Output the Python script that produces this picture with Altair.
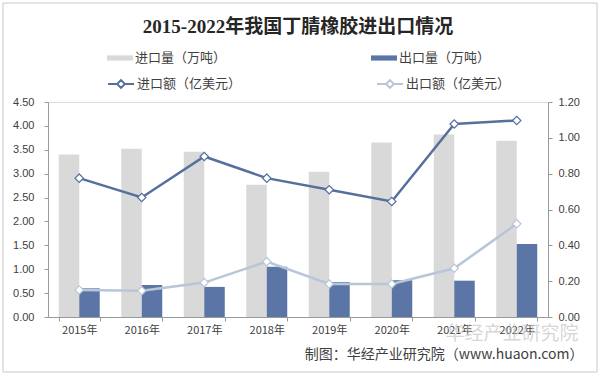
import altair as alt
import pandas as pd

years = ["2015年", "2016年", "2017年", "2018年", "2019年", "2020年", "2021年", "2022年"]
import_vol = [3.40, 3.52, 3.46, 2.77, 3.04, 3.65, 3.82, 3.69]
export_vol = [0.60, 0.67, 0.63, 1.05, 0.73, 0.77, 0.76, 1.53]
import_val = [0.775, 0.667, 0.896, 0.775, 0.71, 0.645, 1.077, 1.097]
export_val = [0.151, 0.147, 0.192, 0.309, 0.184, 0.184, 0.272, 0.52]

bar_series = ["进口量（万吨）", "出口量（万吨）"]
line_series = ["进口额（亿美元）", "出口额（亿美元）"]

bars_df = pd.DataFrame(
    [{"year": y, "series": bar_series[0], "value": v} for y, v in zip(years, import_vol)]
    + [{"year": y, "series": bar_series[1], "value": v} for y, v in zip(years, export_vol)]
)
lines_df = pd.DataFrame(
    [{"year": y, "series": line_series[0], "value": v} for y, v in zip(years, import_val)]
    + [{"year": y, "series": line_series[1], "value": v} for y, v in zip(years, export_val)]
)

FONT = "Liberation Sans, Noto Sans CJK SC"
CJK = "Noto Sans CJK SC"
bar_colors = ["#d9d9d9", "#5b76a6"]
line_colors = ["#55709d", "#b8c6d8"]

xenc = alt.X(
    "year:N",
    sort=years,
    scale=alt.Scale(paddingInner=0.344, paddingOuter=0.172),
    axis=alt.Axis(
        title="制图：华经产业研究院（www.huaon.com）",
        titleFont=CJK, titleFontSize=14, titleFontWeight="normal", titleColor="#404040",
        titleAnchor="end", titleAlign="right", titleBaseline="middle",
        titleX=535, titleY=37,
        labelAngle=0, labelFont=CJK, labelFontSize=11, labelColor="#404040",
        labelPadding=3, tickSize=4, tickBand="extent", tickColor="#999999",
        domainColor="#999999", grid=False,
    ),
)

bars = alt.Chart(bars_df).mark_bar().encode(
    x=xenc,
    xOffset=alt.XOffset("series:N", sort=bar_series, scale=alt.Scale(paddingInner=0, paddingOuter=0)),
    y=alt.Y(
        "value:Q",
        scale=alt.Scale(domain=[0, 4.5], nice=False),
        axis=alt.Axis(
            title=None, values=[0, 0.5, 1, 1.5, 2, 2.5, 3, 3.5, 4, 4.5], format=".2f",
            orient="left", labelFont=FONT, labelFontSize=11, labelColor="#404040",
            tickSize=4, tickColor="#999999", domainColor="#999999", labelPadding=10, grid=False,
        ),
    ),
    color=alt.Color(
        "series:N",
        sort=bar_series,
        scale=alt.Scale(domain=bar_series, range=bar_colors),
        legend=alt.Legend(
            title=None, orient="none", legendX=59, legendY=-57, direction="horizontal",
            columns=2, columnPadding=144,
            symbolType="M-1,-0.2H1V0.2H-1Z", symbolSize=676, symbolStrokeWidth=0,
            labelFont=CJK, labelFontSize=13, labelColor="#404040", labelOffset=2,
        ),
    ),
)

line_base = alt.Chart(lines_df).encode(
    x=alt.X("year:N", sort=years),
    y=alt.Y(
        "value:Q",
        scale=alt.Scale(domain=[0, 1.2], nice=False),
        axis=alt.Axis(
            title="华经产业研究院", titleAngle=0, titleFont=CJK, titleFontSize=19,
            titleFontWeight="normal", titleColor="#c4c4c4", titleOpacity=0.7,
            titleAnchor="start", titleAlign="right", titleBaseline="middle",
            titleX=30, titleY=231,
            values=[0, 0.2, 0.4, 0.6, 0.8, 1.0, 1.2], format=".2f",
            orient="right", labelFont=FONT, labelFontSize=11, labelColor="#404040",
            tickSize=4, tickColor="#999999", domainColor="#999999", labelPadding=6, grid=False,
        ),
    ),
    stroke=alt.Stroke(
        "series:N",
        sort=line_series,
        scale=alt.Scale(domain=line_series, range=line_colors),
        legend=alt.Legend(
            title=None, orient="none", legendX=59, legendY=-32, direction="horizontal",
            columns=2, columnPadding=131,
            symbolType="M-1,0H-0.3M0.3,0H1M-0.3,0L0,-0.3L0.3,0L0,0.3Z",
            symbolSize=676, symbolStrokeWidth=2, symbolFillColor="white",
            labelFont=CJK, labelFontSize=13, labelColor="#404040", labelOffset=2,
        ),
    ),
)

lines = line_base.mark_line(strokeWidth=2.5)
points = line_base.mark_point(shape="diamond", size=70, filled=True, fill="white", strokeWidth=1.2, opacity=1)

frame = alt.Chart(pd.DataFrame({"d": [0]})).mark_rect(fill=None, stroke="#c8c8c8", strokeWidth=1).encode(
    x=alt.value(-45), x2=alt.value(549), y=alt.value(-99), y2=alt.value(270)
)

chart = (
    alt.layer(bars, alt.layer(lines, points), frame)
    .resolve_scale(y="independent", color="independent", stroke="independent")
    .properties(
        width=500,
        height=215,
        autosize=alt.AutoSizeParams(type="none"),
        padding={"left": 48, "top": 102, "right": 52, "bottom": 60},
        title=alt.TitleParams(
            "2015-2022年我国丁腈橡胶进出口情况",
            font="Liberation Serif, Noto Sans CJK SC", fontSize=19, fontWeight="bold",
            color="#262626", anchor="middle", offset=-34, frame="group",
        ),
    )
    .configure_view(stroke=None)
    .configure(background="white")
)

chart.save("out.html", embed_options={"renderer": "svg", "actions": False})
